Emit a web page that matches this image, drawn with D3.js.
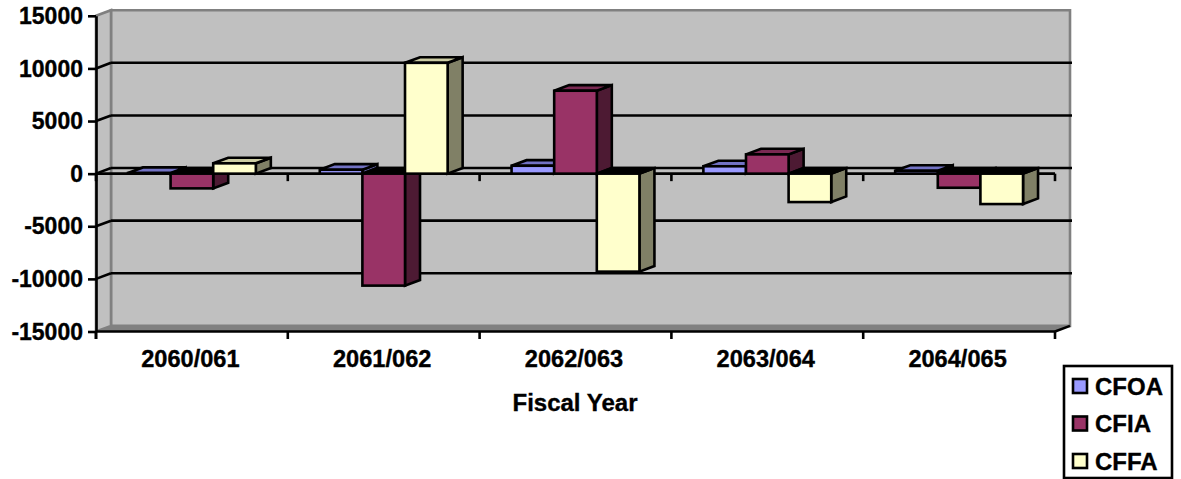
<!DOCTYPE html>
<html>
<head>
<meta charset="utf-8">
<script src="https://cdn.jsdelivr.net/npm/d3@7"></script>
<style>
  html, body { margin: 0; padding: 0; background: #fff; overflow: hidden; }
  text { font-family: "Liberation Sans", Arial, sans-serif; font-weight: 700; fill: #000; stroke: #000; stroke-width: 0.35px; }
</style>
</head>
<body>
<svg id="chart" width="1181" height="479"></svg>
<script>
// Cash flow by fiscal year, drawn as a clustered column chart with pseudo-3D depth.
const fiscalYears = ["2060/061", "2061/062", "2062/063", "2063/064", "2064/065"];
const seriesNames = ["CFOA", "CFIA", "CFFA"];
const cfoa = [60, 370, 750, 700, 270];
const cfia = [-1400, -10640, 7880, 1830, -1340];
const cffa = [980, 10530, -9310, -2700, -2890];
const seriesValues = [cfoa, cfia, cffa];
const yTicks = [15000, 10000, 5000, 0, -5000, -10000, -15000];
const frontColors = ["#9999FF", "#993366", "#FFFFCC"];
const sideColors = ["#5C5C99", "#4D1A33", "#808066"];
const topColors = ["#7272C4", "#7A2952", "#CCCCA3"];

const svg = d3.select("#chart");
const depthX = 15, depthY = -5.6;
const fontSize = 23;
const categoryFontSize = 23.6;
const labelFontSize = 24;
const lineWidth = 2.6;
const x0 = d3.scaleBand().domain(fiscalYears).range([96, 1055]);
const x1 = d3.scaleBand().domain(seriesNames)
  .range([0, x0.bandwidth()]).paddingOuter(0.75).paddingInner(0);
const y = d3.scaleLinear().domain([-15000, 15000]).range([331.5, 15.8]);
const [plotL, plotR] = x0.range();
const [plotB, plotT] = y.range();

const poly = pts => pts.map(p => p.join(",")).join(" ");

// Chart walls and floor
const walls = svg.append("g");
walls.append("polygon")
  .attr("points", poly([[plotL + depthX, plotT + depthY], [plotR + depthX, plotT + depthY],
                        [plotR + depthX, plotB + depthY], [plotL + depthX, plotB + depthY]]))
  .attr("fill", "#C0C0C0").attr("stroke", "#808080").attr("stroke-width", lineWidth);
walls.append("polygon")
  .attr("points", poly([[plotL, plotT], [plotL + depthX, plotT + depthY],
                        [plotL + depthX, plotB + depthY], [plotL, plotB]]))
  .attr("fill", "#C0C0C0").attr("stroke", "#808080").attr("stroke-width", lineWidth);
walls.append("polygon")
  .attr("points", poly([[plotL, plotB], [plotR, plotB],
                        [plotR + depthX, plotB + depthY], [plotL + depthX, plotB + depthY]]))
  .attr("fill", "#808080");

// Gridlines on the back wall with their slanted returns on the side wall
const innerTicks = yTicks.filter(t => t !== 15000 && t !== -15000);
const grid = svg.append("g").attr("stroke", "#000").attr("stroke-width", lineWidth);
grid.selectAll("line.back").data(innerTicks).join("line")
  .attr("class", "back")
  .attr("x1", plotL + depthX).attr("x2", plotR + depthX + 2)
  .attr("y1", d => y(d) + depthY).attr("y2", d => y(d) + depthY);
grid.selectAll("line.side").data(innerTicks).join("line")
  .attr("class", "side")
  .attr("x1", plotL).attr("x2", plotL + depthX)
  .attr("y1", d => y(d)).attr("y2", d => y(d) + depthY);
grid.append("line")
  .attr("x1", plotR).attr("x2", plotR + depthX)
  .attr("y1", plotB).attr("y2", plotB + depthY);

// Axes
const yAxis = svg.append("g").attr("transform", `translate(${plotL},0)`)
  .call(d3.axisLeft(y).tickValues(yTicks).tickSize(8).tickSizeOuter(0).tickPadding(5)
    .tickFormat(d => String(d)));
yAxis.selectAll("text").attr("font-size", fontSize).attr("dy", "0.33em");
yAxis.append("line").attr("x1", 0).attr("x2", 0).attr("y1", plotB).attr("y2", plotB + 7.5);

const xAxis = svg.append("g").attr("transform", `translate(0,${plotB})`);
xAxis.append("line").attr("x1", plotL).attr("x2", plotR);
const boundaries = fiscalYears.map(d => x0(d)).concat(plotR);
xAxis.selectAll("line.tick").data(boundaries).join("line").attr("class", "tick")
  .attr("x1", d => d).attr("x2", d => d).attr("y1", 0).attr("y2", 7.5);
xAxis.selectAll("text").data(fiscalYears).join("text")
  .attr("x", d => x0(d) + x0.bandwidth() / 2 - 1.5).attr("y", 35.5)
  .attr("text-anchor", "middle").attr("font-size", categoryFontSize).text(d => d);

const zeroAxis = svg.append("g").attr("transform", `translate(0,${y(0)})`);
zeroAxis.append("line").attr("x1", plotL).attr("x2", plotR);
zeroAxis.selectAll("line.tick").data(boundaries).join("line").attr("class", "tick")
  .attr("x1", d => d).attr("x2", d => d).attr("y1", 0).attr("y2", 7.5);

[yAxis, xAxis, zeroAxis].forEach(g =>
  g.selectAll("line, path.domain").attr("stroke", "#000").attr("stroke-width", lineWidth));

// Columns, drawn series by series inside each fiscal year so later ones overlap
const bars = svg.append("g").attr("stroke", "#000").attr("stroke-width", lineWidth).attr("stroke-linejoin", "miter");
fiscalYears.forEach((year, i) => {
  seriesNames.forEach((name, s) => {
    const v = seriesValues[s][i];
    const l = x0(year) + x1(name), r = l + x1.bandwidth();
    const top = y(Math.max(v, 0)), bot = y(Math.min(v, 0));
    const g = bars.append("g");
    g.append("polygon")
      .attr("points", poly([[r, top], [r + depthX, top + depthY], [r + depthX, bot + depthY], [r, bot]]))
      .attr("fill", sideColors[s]);
    g.append("polygon")
      .attr("points", poly([[l, top], [l + depthX, top + depthY], [r + depthX, top + depthY], [r, top]]))
      .attr("fill", v < 0 ? "#000" : topColors[s]);
    g.append("rect")
      .attr("x", l).attr("y", top).attr("width", r - l).attr("height", bot - top)
      .attr("fill", frontColors[s]);
  });
});

// Axis title
svg.append("text").attr("x", 575).attr("y", 410.5).attr("text-anchor", "middle")
  .attr("font-size", labelFontSize).text("Fiscal Year");

// Legend
const legend = svg.append("g");
legend.append("rect").attr("x", 1064).attr("y", 366).attr("width", 108).attr("height", 112)
  .attr("fill", "#fff").attr("stroke", "#000").attr("stroke-width", lineWidth);
const legendY = d3.scalePoint().domain(seriesNames).range([386, 461]);
seriesNames.forEach((name, s) => {
  legend.append("rect").attr("x", 1073).attr("y", legendY(name) - 7).attr("width", 14).attr("height", 14)
    .attr("fill", frontColors[s]).attr("stroke", "#000").attr("stroke-width", lineWidth);
  legend.append("text").attr("x", 1095).attr("y", legendY(name) + 8.5)
    .attr("font-size", labelFontSize).text(name);
});
</script>
</body>
</html>
